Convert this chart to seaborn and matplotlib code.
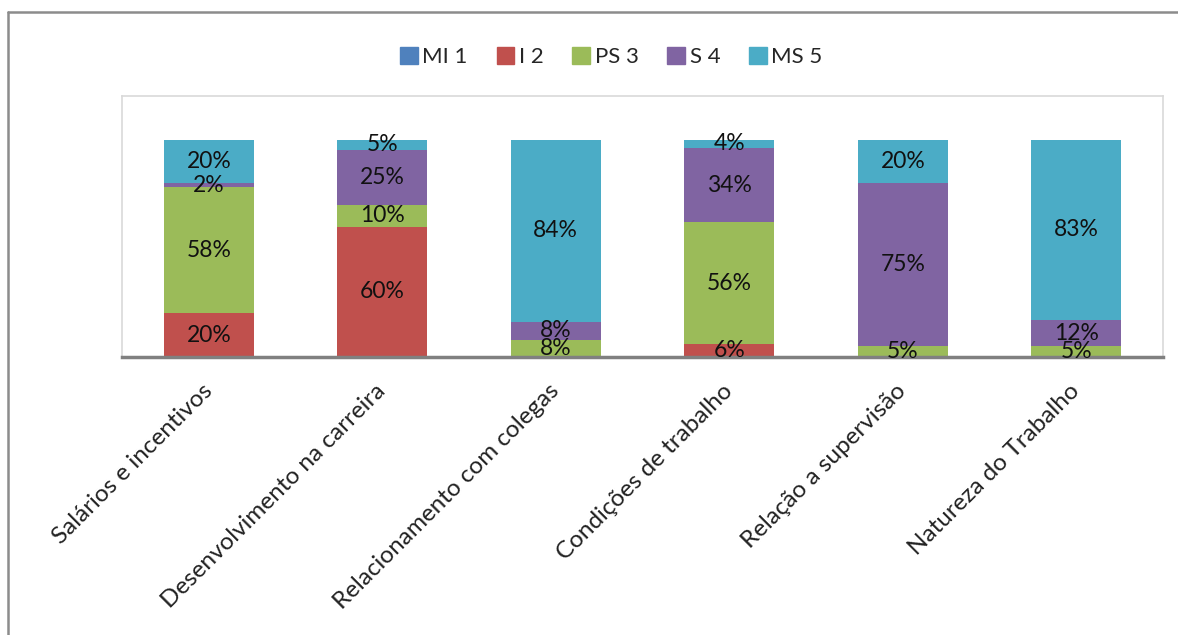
import seaborn as sns
import pandas as pd
import matplotlib.pyplot as plt
from matplotlib.lines import Line2D

sns.set_theme(style="white")
plt.rcParams['font.family'] = ['Lato', 'DejaVu Sans']

# data (fractions of each category)
categories = ["Salários e incentivos", "Desenvolvimento na carreira", "Relacionamento com colegas",
              "Condições de trabalho", "Relação a supervisão", "Natureza do Trabalho"]
series = ["MI 1", "I 2", "PS 3", "S 4", "MS 5"]
mi1 = [0.00, 0.00, 0.00, 0.00, 0.00, 0.00]
i2 = [0.20, 0.60, 0.00, 0.06, 0.00, 0.00]
ps3 = [0.58, 0.10, 0.08, 0.56, 0.05, 0.05]
s4 = [0.02, 0.25, 0.08, 0.34, 0.75, 0.12]
ms5 = [0.20, 0.05, 0.84, 0.04, 0.20, 0.83]
colors = ["#4F81BD", "#C0504D", "#9BBB59", "#8064A2", "#4BACC6"]

df = pd.DataFrame({"cat": categories, "MI 1": mi1, "I 2": i2, "PS 3": ps3, "S 4": s4, "MS 5": ms5})

fig, ax = plt.subplots(figsize=(11.78, 6.35), dpi=100)
fig.subplots_adjust(left=0.1036, right=0.9873, top=0.8488, bottom=0.4378)

bottom = [0.0] * len(categories)
handles = []
for name, col in zip(series, colors):
    vals = df[name].tolist()
    sns.barplot(x="cat", y=name, data=df, ax=ax, color=col, width=0.52,
                bottom=bottom, linewidth=0, saturation=1, errorbar=None)
    cont = ax.containers[-1]
    labels = [f"{v*100:.0f}%" if v > 0 else "" for v in vals]
    ax.bar_label(cont, labels=labels, label_type="center", fontsize=16.5, color="#111111")
    handles.append(plt.Rectangle((0, 0), 1, 1, color=col))
    bottom = [b + v for b, v in zip(bottom, vals)]

ax.set_xlim(-0.5, 5.5)
ax.set_ylim(0, 1.2)
ax.set_yticks([])
ax.set_xlabel("")
ax.set_ylabel("")
ax.tick_params(axis="x", length=0, pad=22)
plt.setp(ax.get_xticklabels(), rotation=45, ha="right", va="center",
         rotation_mode="anchor", fontsize=17.5, color="#222222")

for side in ["left", "top", "right"]:
    ax.spines[side].set_color("#D9D9D9")
    ax.spines[side].set_linewidth(1.2)
ax.spines["bottom"].set_color("#808080")
ax.spines["bottom"].set_linewidth(2.5)

fig.legend(handles, series, loc="center", bbox_to_anchor=(0.519, 0.91), ncol=5,
           frameon=False, fontsize=16, handlelength=0.8, handleheight=0.8,
           handletextpad=0.2, columnspacing=1.3)

# outer chart frame (only left and top visible in the crop)
fig.add_artist(Line2D([8/1178, 8/1178], [0, 1 - 12/635], transform=fig.transFigure,
                      color="#8C8C8C", lw=1.8))
fig.add_artist(Line2D([8/1178, 1], [1 - 12/635, 1 - 12/635], transform=fig.transFigure,
                      color="#8C8C8C", lw=1.8))

plt.savefig("out.png", dpi=100)
